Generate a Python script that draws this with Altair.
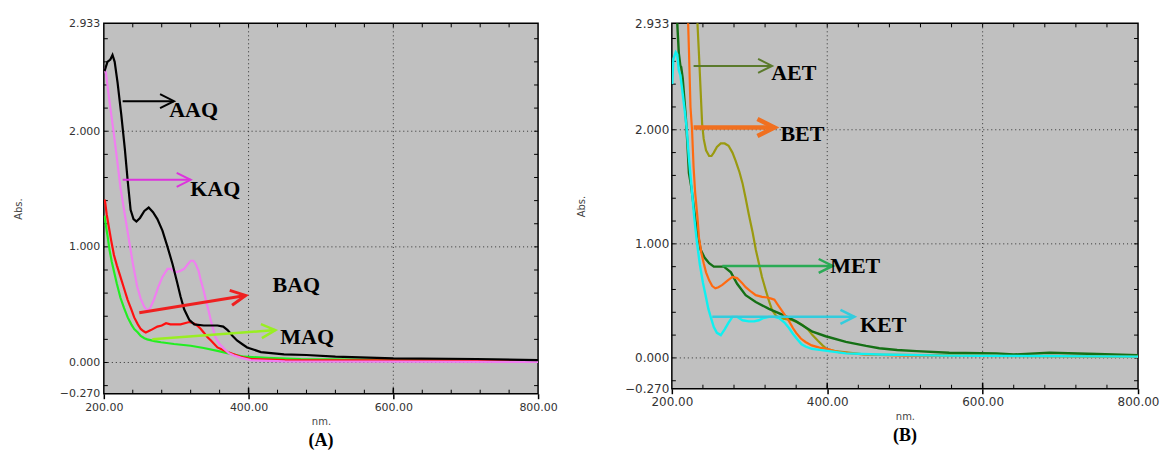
import altair as alt
import pandas as pd

# ---------------- Panel A data ----------------
AAQ_NM = [201, 205, 209, 212, 215, 219, 224, 229, 233, 237, 241, 245, 250, 256, 262, 268, 274, 281, 288, 295,
          301, 306, 311, 318, 325, 338, 357, 365, 371, 378, 384, 391, 398, 417, 449, 480, 520, 600, 715, 800]
AAQ_AB = [2.52, 2.60, 2.62, 2.66, 2.60, 2.42, 2.15, 1.85, 1.57, 1.32, 1.24, 1.22, 1.25, 1.31, 1.34, 1.30, 1.24, 1.14, 1.00, 0.85,
          0.70, 0.57, 0.46, 0.37, 0.33, 0.32, 0.32, 0.31, 0.28, 0.23, 0.19, 0.16, 0.13, 0.09, 0.07, 0.065, 0.05, 0.035, 0.03, 0.02]

KAQ_NM = [201, 203, 208, 214, 219, 223, 229, 235, 240, 246, 251, 256, 260, 264, 269, 275, 281, 288, 293, 299, 305, 311,
          316, 320, 324, 327, 331, 334, 338, 341, 345, 348, 354, 360, 366, 373, 380, 390, 403, 450, 800]
KAQ_AB = [2.55, 2.50, 2.25, 1.97, 1.72, 1.51, 1.28, 1.05, 0.86, 0.66, 0.55, 0.48, 0.45, 0.47, 0.54, 0.65, 0.74, 0.81, 0.81, 0.78, 0.79, 0.81,
          0.85, 0.88, 0.88, 0.85, 0.79, 0.71, 0.62, 0.54, 0.44, 0.36, 0.22, 0.16, 0.12, 0.08, 0.06, 0.04, 0.02, 0.01, 0.005]

BAQ_NM = [201, 202, 204, 207, 210, 214, 218, 223, 228, 233, 238, 242, 247, 251, 255, 258, 265, 274, 280, 286, 292, 306,
          318, 324, 329, 334, 338, 343, 348, 357, 371, 389, 403, 450, 800]
BAQ_AB = [1.41, 1.38, 1.28, 1.17, 1.06, 0.93, 0.84, 0.74, 0.64, 0.54, 0.46, 0.39, 0.33, 0.29, 0.27, 0.26, 0.28, 0.31, 0.32, 0.34, 0.33, 0.33,
          0.35, 0.34, 0.32, 0.29, 0.26, 0.22, 0.19, 0.13, 0.09, 0.05, 0.03, 0.02, 0.015]

MAQ_NM = [201, 203, 205, 208, 211, 214, 218, 223, 228, 233, 238, 242, 247, 251, 256, 260, 270, 279, 297, 320, 338, 357,
          375, 394, 426, 472, 550, 800]
MAQ_AB = [1.27, 1.18, 1.10, 0.97, 0.87, 0.79, 0.68, 0.56, 0.47, 0.39, 0.33, 0.29, 0.26, 0.23, 0.21, 0.20, 0.185, 0.175, 0.16, 0.145, 0.125, 0.10,
          0.075, 0.05, 0.04, 0.03, 0.025, 0.02]

# ---------------- Panel B data ----------------
AET_NM = [231, 233, 235, 237, 239, 241, 244, 248, 251, 254, 258, 263, 268, 273, 278, 282, 287, 291, 295, 299, 304, 308,
          312, 316, 321, 325, 329, 334, 338, 347, 355, 362, 368, 375, 381, 388, 394, 399, 410, 450, 800]
AET_AB = [3.20, 2.93, 2.65, 2.35, 2.05, 1.92, 1.82, 1.77, 1.77, 1.80, 1.85, 1.88, 1.88, 1.86, 1.80, 1.73, 1.63, 1.53, 1.40, 1.26, 1.10, 0.95,
          0.83, 0.71, 0.59, 0.50, 0.42, 0.37, 0.35, 0.34, 0.33, 0.31, 0.29, 0.25, 0.20, 0.15, 0.11, 0.08, 0.06, 0.03, 0.01]

BET_NM = [220, 221, 222, 223, 224, 226, 228, 230, 233, 235, 238, 241, 244, 248, 252, 256, 260, 265, 272, 278, 284, 290,
          295, 302, 308, 316, 323, 328, 332, 336, 340, 346, 351, 356, 360, 366, 372, 380, 390, 399, 415, 446, 500, 800]
BET_AB = [3.20, 2.93, 2.70, 2.45, 2.20, 2.00, 1.67, 1.45, 1.23, 1.05, 0.92, 0.83, 0.75, 0.68, 0.63, 0.61, 0.62, 0.64, 0.68, 0.71, 0.70, 0.66,
          0.62, 0.58, 0.55, 0.535, 0.53, 0.52, 0.51, 0.47, 0.43, 0.37, 0.32, 0.26, 0.22, 0.17, 0.14, 0.11, 0.09, 0.08, 0.05, 0.03, 0.02, 0.01]

MET_NM = [206, 207, 208, 209, 211, 212, 214, 216, 218, 220, 222, 225, 229, 232, 235, 237, 242, 248, 254, 267, 276, 284,
          295, 308, 325, 342, 360, 381, 398, 424, 450, 467, 490, 515, 557, 618, 640, 686, 747, 800]
MET_AB = [3.20, 2.93, 2.80, 2.67, 2.56, 2.55, 2.45, 2.28, 2.11, 1.88, 1.62, 1.50, 1.28, 1.12, 1.03, 0.95, 0.88, 0.83, 0.80, 0.80, 0.75, 0.65,
          0.55, 0.49, 0.43, 0.38, 0.32, 0.23, 0.19, 0.14, 0.105, 0.085, 0.07, 0.06, 0.045, 0.04, 0.03, 0.045, 0.035, 0.024]

KET_NM = [200.5, 202, 205, 207, 209, 211, 213, 216, 219, 222, 226, 229, 232, 236, 240, 244, 247, 250, 254, 258, 263, 268,
          273, 278, 284, 291, 299, 306, 312, 318, 325, 332, 338, 345, 351, 356, 362, 367, 372, 380, 390, 424, 467, 550, 800]
KET_AB = [2.40, 2.62, 2.68, 2.66, 2.52, 2.48, 2.37, 2.20, 2.02, 1.75, 1.45, 1.22, 1.03, 0.82, 0.66, 0.53, 0.43, 0.36, 0.27, 0.22, 0.20, 0.25,
          0.31, 0.36, 0.36, 0.33, 0.32, 0.32, 0.33, 0.35, 0.36, 0.36, 0.35, 0.31, 0.26, 0.21, 0.16, 0.12, 0.10, 0.08, 0.07, 0.04, 0.03, 0.02, 0.011]

# ---------------- arrows and labels ----------------
A_ARROW_NAMES = ["AAQ", "KAQ", "BAQ", "MAQ"]
A_ARROW_X1 = [226, 226, 249, 267]
A_ARROW_Y1 = [2.26, 1.58, 0.43, 0.20]
A_ARROW_X2 = [297, 320, 396, 437]
A_ARROW_Y2 = [2.26, 1.58, 0.58, 0.28]
A_LABEL_X = [324, 354, 466, 481]
A_LABEL_Y = [2.18, 1.50, 0.67, 0.22]

B_ARROW_NAMES = ["AET", "BET", "MET", "KET"]
B_ARROW_X1 = [228, 228, 265, 252]
B_ARROW_Y1 = [2.56, 2.02, 0.806, 0.36]
B_ARROW_X2 = [329, 332, 407, 435]
B_ARROW_Y2 = [2.56, 2.02, 0.806, 0.36]
B_LABEL_X = [357, 368, 436, 472]
B_LABEL_Y = [2.50, 1.96, 0.81, 0.29]

X_LABELS = [200, 400, 600, 800]
Y_LABELS = [-0.270, 0.000, 1.000, 2.000, 2.933]
X_GRID = [400, 600]
Y_GRID = [0, 1, 2]
X_MINOR = [240, 280, 320, 360, 400, 440, 480, 520, 560, 600, 640, 680, 720, 760]
Y_MINOR = [-0.2, 0.0, 0.2, 0.4, 0.6, 0.8, 1.0, 1.2, 1.4, 1.6, 1.8, 2.0, 2.2, 2.4, 2.6, 2.8]

X_DOMAIN = [200, 800]
Y_DOMAIN = [-0.270, 2.933]

CHEVRON = "M-1,-0.5L0,0L-1,0.5"


def panel(curves, arrows, labels, width, height, label_size, caption, title_pad, label_pad):
    xs = alt.Scale(domain=X_DOMAIN, nice=False, zero=False)
    ys = alt.Scale(domain=Y_DOMAIN, nice=False, zero=False)
    xaxis = alt.Axis(values=X_LABELS, format=".2f", labelFlush=False, domain=False, grid=False,
                     ticks=True, tickSize=5, tickWidth=1.5, tickColor="#000", labelPadding=3,
                     labelFont="DejaVu Sans", labelFontSize=label_size, labelColor="#333",
                     title="nm.", titleFont="DejaVu Sans", titleFontSize=10, titleFontWeight="normal",
                     titleColor="#444", titlePadding=4)
    yaxis = alt.Axis(values=Y_LABELS, format=".3f", labelFlush=False, domain=False, grid=False,
                     ticks=False, labelPadding=label_pad,
                     labelFont="DejaVu Sans", labelFontSize=label_size, labelColor="#333",
                     title="Abs.", titleFont="DejaVu Sans", titleFontSize=10, titleFontWeight="normal",
                     titleColor="#444", titlePadding=title_pad)

    layers = []
    # grid lines
    gx = alt.Chart(pd.DataFrame({"g": X_GRID})).mark_rule(color="#303030", strokeDash=[1, 3], strokeWidth=1).encode(
        x=alt.X("g:Q", scale=xs, axis=xaxis), y=alt.value(0), y2=alt.value(height))
    gy = alt.Chart(pd.DataFrame({"g": Y_GRID})).mark_rule(color="#303030", strokeDash=[1, 3], strokeWidth=1).encode(
        y=alt.Y("g:Q", scale=ys, axis=yaxis), x=alt.value(0), x2=alt.value(width))
    layers += [gx, gy]

    # minor ticks (inward) on four sides
    tx = pd.DataFrame({"t": X_MINOR})
    ty = pd.DataFrame({"t": Y_MINOR})
    layers.append(alt.Chart(tx).mark_rule(color="#000", strokeWidth=1).encode(
        x=alt.X("t:Q", scale=xs), y=alt.value(height), y2=alt.value(height - 4)))
    layers.append(alt.Chart(tx).mark_rule(color="#000", strokeWidth=1).encode(
        x=alt.X("t:Q", scale=xs), y=alt.value(0), y2=alt.value(4)))
    layers.append(alt.Chart(ty).mark_rule(color="#000", strokeWidth=1).encode(
        y=alt.Y("t:Q", scale=ys), x=alt.value(0), x2=alt.value(4)))
    layers.append(alt.Chart(ty).mark_rule(color="#000", strokeWidth=1).encode(
        y=alt.Y("t:Q", scale=ys), x=alt.value(width), x2=alt.value(width - 4)))
    layers.append(alt.Chart(pd.DataFrame({"t": X_GRID})).mark_rule(color="#000", strokeWidth=1.5).encode(
        x=alt.X("t:Q", scale=xs), y=alt.value(height), y2=alt.value(height - 6)))

    # curves
    for nm, ab, color, w in curves:
        df = pd.DataFrame({"nm": nm, "abs": ab})
        layers.append(alt.Chart(df).mark_line(color=color, strokeWidth=w, clip=True).encode(
            x=alt.X("nm:Q", scale=xs), y=alt.Y("abs:Q", scale=ys)))

    # arrows
    names, x1, y1, x2, y2, colors, widths, heads, angles = arrows
    for i in range(len(names)):
        df = pd.DataFrame({"x1": [x1[i]], "y1": [y1[i]], "x2": [x2[i]], "y2": [y2[i]]})
        layers.append(alt.Chart(df).mark_rule(color=colors[i], strokeWidth=widths[i]).encode(
            x=alt.X("x1:Q", scale=xs), y=alt.Y("y1:Q", scale=ys), x2="x2:Q", y2="y2:Q"))
        layers.append(alt.Chart(df).mark_point(shape=CHEVRON, filled=False, size=heads[i], color=colors[i],
                                               strokeWidth=widths[i], opacity=1, angle=angles[i]).encode(
            x=alt.X("x2:Q", scale=xs), y=alt.Y("y2:Q", scale=ys)))

    # labels
    lnames, lx, ly = labels
    ldf = pd.DataFrame({"t": lnames, "x": lx, "y": ly})
    layers.append(alt.Chart(ldf).mark_text(font="Liberation Serif", fontWeight="bold", fontSize=22,
                                           color="#000", align="center", baseline="middle").encode(
        x=alt.X("x:Q", scale=xs), y=alt.Y("y:Q", scale=ys), text="t:N"))

    return alt.layer(*layers).properties(
        width=width, height=height,
        title=alt.TitleParams(caption, orient="bottom", anchor="middle", font="Liberation Serif",
                              fontSize=18, fontWeight="bold", color="#000", offset=5))


chart_a = panel(
    [(MAQ_NM, MAQ_AB, "#22ee22", 2.2), (BAQ_NM, BAQ_AB, "#ff1010", 2.2),
     (KAQ_NM, KAQ_AB, "#f07ef0", 2.2), (AAQ_NM, AAQ_AB, "#000000", 2.2)],
    (A_ARROW_NAMES, A_ARROW_X1, A_ARROW_Y1, A_ARROW_X2, A_ARROW_Y2,
     ["#000000", "#dd33dd", "#ee2020", "#99ee22"], [2, 2, 3, 2.5], [784, 784, 900, 784], [0, 0, 351, 356]),
    (A_ARROW_NAMES, A_LABEL_X, A_LABEL_Y),
    435, 371, 11, "(A)", 36, 4)

chart_b = panel(
    [(AET_NM, AET_AB, "#9a9a10", 2.2), (MET_NM, MET_AB, "#157015", 2.4),
     (BET_NM, BET_AB, "#ff6a10", 2.2), (KET_NM, KET_AB, "#10f0f0", 2.4)],
    (B_ARROW_NAMES, B_ARROW_X1, B_ARROW_Y1, B_ARROW_X2, B_ARROW_Y2,
     ["#5b7a2c", "#f07020", "#2aaa55", "#33ccdd"], [2, 4.5, 2.5, 2.5], [784, 1156, 784, 784], [0, 0, 0, 0]),
    (B_ARROW_NAMES, B_LABEL_X, B_LABEL_Y),
    467, 366, 12, "(B)", 38, 3)

chart = alt.hconcat(chart_a, chart_b, spacing=17).properties(
    padding={"left": 12, "top": 16, "right": 0, "bottom": 2}
).configure_view(fill="#c0c0c0", stroke="#000", strokeWidth=1.5)

chart.save("out.html", embed_options={"renderer": "svg", "actions": False})
